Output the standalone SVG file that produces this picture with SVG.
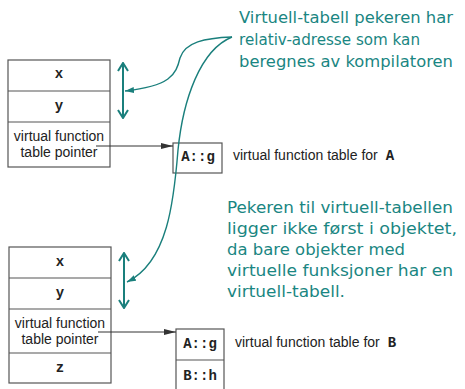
<svg xmlns="http://www.w3.org/2000/svg" width="465" height="389" viewBox="0 0 465 389">
<style>
.box{fill:#fff;stroke:#555;stroke-width:1.2}
.sep{stroke:#555;stroke-width:1.2}
.mono{font-family:"Liberation Mono","DejaVu Sans Mono",monospace;font-weight:bold;font-size:14px;fill:#222}
.sans{font-family:"Liberation Sans",Arial,sans-serif;font-size:14px;fill:#222}
.note{font-family:"Comic Sans MS","DejaVu Sans",sans-serif;font-size:16.5px;fill:#1a8682}
.ptr{stroke:#333;stroke-width:1;fill:none}
.teal{stroke:#1a7f7c;stroke-width:1.4;fill:none}
.dbl{stroke:#1a7f7c;stroke-width:2;fill:none}
</style>
<defs>
<marker id="ah" viewBox="0 0 12 6" refX="12" refY="3" markerWidth="12" markerHeight="6" markerUnits="userSpaceOnUse" orient="auto">
<path d="M0,0 L12,3 L0,6 Z" fill="#333"/>
</marker>
<marker id="th" viewBox="0 0 9 6" refX="9" refY="3" markerWidth="9" markerHeight="6" markerUnits="userSpaceOnUse" orient="auto">
<path d="M0,0 L9,3 L0,6 Z" fill="#1a7f7c"/>
</marker>
<marker id="ch" viewBox="0 0 10 12" refX="9" refY="6" markerWidth="10" markerHeight="12" markerUnits="userSpaceOnUse" orient="auto-start-reverse">
<path d="M1,1 L9,6 L1,11" fill="none" stroke="#1a7f7c" stroke-width="2"/>
</marker>
</defs>
<rect width="465" height="389" fill="#fff"/>

<g id="objA">
<rect class="box" x="8" y="60" width="102" height="107"/>
<line class="sep" x1="8" y1="91" x2="110" y2="91"/>
<line class="sep" x1="8" y1="122" x2="110" y2="122"/>
<text class="mono" x="59" y="78" text-anchor="middle">x</text>
<text class="mono" x="59" y="110" text-anchor="middle">y</text>
<text class="sans" x="59" y="141" text-anchor="middle">virtual function</text>
<text class="sans" x="59" y="157" text-anchor="middle">table pointer</text>
</g>

<g id="vtblA">
<rect class="box" x="173" y="143" width="49" height="30"/>
<text class="mono" x="198" y="161" text-anchor="middle">A::g</text>
<text class="sans" x="233" y="160">virtual function table for <tspan class="mono" dx="4">A</tspan></text>
</g>

<g id="objB">
<rect class="box" x="9" y="247" width="102" height="136"/>
<line class="sep" x1="9" y1="278" x2="111" y2="278"/>
<line class="sep" x1="9" y1="309" x2="111" y2="309"/>
<line class="sep" x1="9" y1="353" x2="111" y2="353"/>
<text class="mono" x="60" y="266" text-anchor="middle">x</text>
<text class="mono" x="60" y="297" text-anchor="middle">y</text>
<text class="sans" x="60" y="328" text-anchor="middle">virtual function</text>
<text class="sans" x="60" y="344" text-anchor="middle">table pointer</text>
<text class="mono" x="60" y="372" text-anchor="middle">z</text>
</g>

<g id="vtblB">
<rect class="box" x="176" y="329" width="48" height="63"/>
<line class="sep" x1="176" y1="360" x2="224" y2="360"/>
<text class="mono" x="200" y="348" text-anchor="middle">A::g</text>
<text class="mono" x="200" y="380" text-anchor="middle">B::h</text>
<text class="sans" x="235" y="347">virtual function table for <tspan class="mono" dx="4">B</tspan></text>
</g>

<g id="note1">
<text class="note" x="239" y="23" textLength="214" lengthAdjust="spacingAndGlyphs">Virtuell-tabell pekeren har</text>
<text class="note" x="239" y="45" textLength="181" lengthAdjust="spacingAndGlyphs">relativ-adresse som kan</text>
<text class="note" x="239" y="67" textLength="214" lengthAdjust="spacingAndGlyphs">beregnes av kompilatoren</text>
</g>

<g id="note2">
<text class="note" x="227" y="213" textLength="226" lengthAdjust="spacingAndGlyphs">Pekeren til virtuell-tabellen</text>
<text class="note" x="227" y="234" textLength="230" lengthAdjust="spacingAndGlyphs">ligger ikke først i objektet,</text>
<text class="note" x="227" y="255" textLength="178" lengthAdjust="spacingAndGlyphs">da bare objekter med</text>
<text class="note" x="227" y="276" textLength="226" lengthAdjust="spacingAndGlyphs">virtuelle funksjoner har en</text>
<text class="note" x="227" y="297" textLength="118" lengthAdjust="spacingAndGlyphs">virtuell-tabell.</text>
</g>

<g id="connectors">
<line class="ptr" x1="96" y1="146" x2="173" y2="146" marker-end="url(#ah)"/>
<line class="ptr" x1="98" y1="332" x2="176" y2="332" marker-end="url(#ah)"/>
<line class="dbl" x1="123" y1="63" x2="123" y2="118" marker-start="url(#ch)" marker-end="url(#ch)"/>
<line class="dbl" x1="124" y1="253" x2="124" y2="308" marker-start="url(#ch)" marker-end="url(#ch)"/>
<path class="teal" d="M232,37 C205,38 185,42 180,58 C176,75 170,86 125,91" marker-end="url(#th)"/>
<path class="teal" d="M232,37 C200,50 183,100 178,150 C174,200 168,262 127,282" marker-end="url(#th)"/>
</g>
</svg>
